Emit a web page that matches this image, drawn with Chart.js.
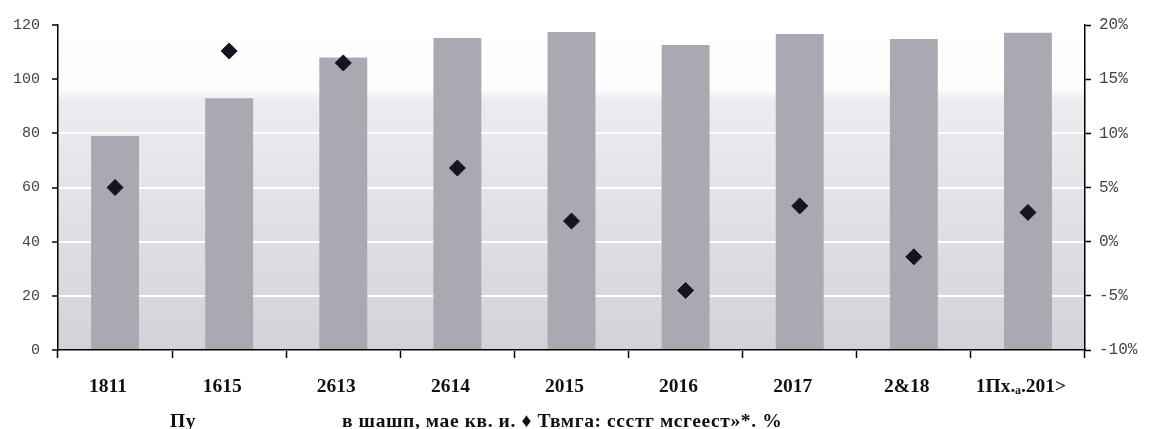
<!DOCTYPE html>
<html><head><meta charset="utf-8">
<script src="https://cdn.jsdelivr.net/npm/chart.js@4.4.1/dist/chart.umd.min.js"></script>
<style>
html,body{margin:0;padding:0;background:#fff;}
#wrap{position:relative;width:1150px;height:429px;overflow:hidden;}
#legend{position:absolute;left:0;top:410px;width:1150px;height:20px;line-height:20px;font:bold 19.5px "Liberation Serif",serif;color:#111;white-space:nowrap;letter-spacing:0.6px;}
#legend span{position:absolute;top:0;}
</style></head>
<body>
<div id="wrap">
<canvas id="c" width="1150" height="429"></canvas>
<div id="legend"><span style="left:170px">Пу</span><span style="left:342px">в шашп, мае кв. и. ♦ Твмга: ссстг мсгеест»*. %</span></div>
</div>
<script>
const categories = ["1811","1615","2613","2614","2015","2016","2017","2&18","1Пх.ₐ.201>"];
const barValues = [79, 93, 108, 115.2, 117.4, 112.6, 116.7, 114.8, 117.1];
const pctValues = [5.0, 17.6, 16.5, 6.8, 1.9, -4.5, 3.3, -1.4, 2.7];
const leftTicks = [0, 20, 40, 60, 80, 100, 120];
const rightTicks = [-10, -5, 0, 5, 10, 15, 20];

const bgPlugin = {
  id: 'bg',
  beforeDraw(chart) {
    const {ctx, chartArea: a} = chart;
    const g = ctx.createLinearGradient(0, a.top, 0, a.bottom);
    g.addColorStop(0, '#ffffff');
    g.addColorStop(0.2, '#fdfdfd');
    g.addColorStop(0.23, '#ececf0');
    g.addColorStop(1, '#d2d2da');
    ctx.save();
    ctx.fillStyle = g;
    ctx.fillRect(a.left, a.top, a.right - a.left, a.bottom - a.top);
    ctx.restore();
  }
};

new Chart(document.getElementById('c'), {
  data: {
    labels: categories,
    datasets: [
      {
        type: 'scatter',
        data: pctValues.map((v, i) => ({x: categories[i], y: v})),
        yAxisID: 'y1',
        xAxisID: 'x',
        pointStyle: 'rectRot',
        pointRadius: 8,
        pointHoverRadius: 8,
        backgroundColor: '#15151f',
        borderColor: '#15151f',
        showLine: false,
        order: 0
      },
      {
        type: 'bar',
        data: barValues,
        yAxisID: 'y',
        backgroundColor: '#a9a9b1',
        borderWidth: 0,
        categoryPercentage: 1,
        barPercentage: 0.42,
        order: 1
      }
    ]
  },
  options: {
    responsive: false,
    animation: false,
    events: [],
    layout: {padding: {top: 25, left: 0, right: 0, bottom: 0}},
    plugins: {legend: {display: false}, tooltip: {enabled: false}, title: {display: false}},
    scales: {
      x: {
        type: 'category',
        labels: categories,
        offset: true,
        afterFit: s => { s.height = 79; },
        border: {color: '#000', width: 1.5},
        grid: {offset: true, drawOnChartArea: false, tickColor: '#000', tickLength: 8, tickWidth: 1.5},
        ticks: {
          color: '#111', padding: 17, labelOffset: -7, maxRotation: 0, autoSkip: false,
          font: {family: '"Liberation Serif", serif', weight: 'bold', size: 19.5}
        }
      },
      y: {
        position: 'left',
        min: 0, max: 120,
        afterFit: s => { s.width = 58; },
        afterBuildTicks: s => { s.ticks = leftTicks.map(v => ({value: v})); },
        border: {color: '#000', width: 1.5},
        grid: {color: '#ffffff', lineWidth: 2, tickColor: '#000', tickLength: 6, tickWidth: 1.5},
        ticks: {color: '#444', padding: 12, font: {family: '"Liberation Mono", monospace', size: 15}}
      },
      y1: {
        position: 'right',
        min: -10, max: 20,
        afterFit: s => { s.width = 65; },
        afterBuildTicks: s => { s.ticks = rightTicks.map(v => ({value: v})); },
        border: {color: '#000', width: 1.5},
        grid: {drawOnChartArea: false, tickColor: '#000', tickLength: 6, tickWidth: 1.5},
        ticks: {color: '#444', padding: 8, callback: v => v + '%', font: {family: '"Liberation Mono", monospace', size: 16}}
      }
    }
  },
  plugins: [bgPlugin]
});
</script>
</body></html>
